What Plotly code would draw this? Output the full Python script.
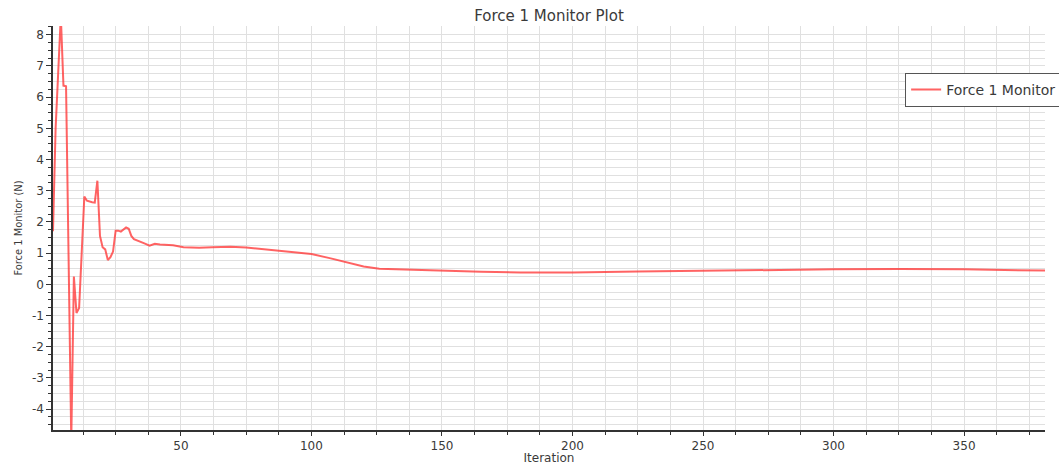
import plotly.graph_objects as go

# Force monitor history: iteration number and force value (N)
iterations = [1, 2, 3, 4, 5, 6, 7, 8, 9, 10, 11, 12, 13, 14, 15, 16, 17, 18, 19, 20,
              21, 22, 23, 24, 25, 26, 27, 28, 29, 30, 31, 32, 34, 36, 38, 40, 42, 47,
              51, 57, 62, 69, 75, 88, 100, 107, 114, 120, 126, 139, 152, 165, 180,
              200, 225, 250, 275, 300, 325, 350, 381]
force = [1.7, 5.0, 6.8, 8.6, 6.37, 6.35, 0.7, -5.0, 0.25, -0.92, -0.76, 1.0, 2.81, 2.68,
         2.65, 2.63, 2.62, 3.32, 1.55, 1.19, 1.12, 0.78, 0.87, 1.05, 1.72, 1.72, 1.69,
         1.76, 1.82, 1.78, 1.55, 1.45, 1.37, 1.31, 1.24, 1.30, 1.28, 1.25, 1.19, 1.17,
         1.19, 1.20, 1.18, 1.08, 0.97, 0.84, 0.69, 0.57, 0.50, 0.46, 0.43, 0.40, 0.38,
         0.38, 0.41, 0.44, 0.46, 0.48, 0.49, 0.48, 0.44]

x_ticks = [50, 100, 150, 200, 250, 300, 350]
x_tick_labels = ["50", "100", "150", "200", "250", "300", "350"]
y_ticks = [-4, -3, -2, -1, 0, 1, 2, 3, 4, 5, 6, 7, 8]
y_tick_labels = ["-4", "-3", "-2", "-1", "0", "1", "2", "3", "4", "5", "6", "7", "8"]

FONT = "DejaVu Sans"
TEXT = "#3a3a3a"
GRID = "#e0e0e0"

fig = go.Figure()
fig.add_trace(go.Scatter(
    x=iterations, y=force, mode="lines", name="Force 1 Monitor",
    line=dict(color="rgba(255,55,55,0.78)", width=2),
))

fig.update_layout(
    width=1059, height=465,
    margin=dict(l=53, r=14, t=26, b=35, autoexpand=False),
    paper_bgcolor="white", plot_bgcolor="white",
    font=dict(family=FONT, size=12, color=TEXT),
    title=dict(text="Force 1 Monitor Plot", x=0.5, xref="paper", xanchor="center",
               y=1 - 16 / 465, yref="container", yanchor="middle",
               font=dict(family=FONT, size=15, color=TEXT)),
    showlegend=True,
    legend=dict(x=0.859, y=0.884, xanchor="left", yanchor="top",
                bgcolor="white", bordercolor="#555555", borderwidth=1,
                font=dict(family=FONT, size=14, color=TEXT),
                itemwidth=30, tracegroupgap=0),
)

fig.update_xaxes(
    range=[1, 381], tickvals=x_ticks, ticktext=x_tick_labels,
    showline=True, linecolor="#333333", linewidth=1.5, mirror=False,
    ticks="outside", ticklen=4, tickcolor="#333333",
    showgrid=True, gridcolor=GRID, gridwidth=1, zeroline=False,
    minor=dict(dtick=12.5, tick0=0, showgrid=True, gridcolor=GRID, gridwidth=1,
               ticks="outside", ticklen=3, tickcolor="#333333"),
    title=dict(text="Iteration", standoff=2, font=dict(family=FONT, size=12, color=TEXT)),
    tickfont=dict(family=FONT, size=12, color=TEXT),
)

fig.update_yaxes(
    range=[-4.67, 8.28], tickvals=y_ticks, ticktext=y_tick_labels,
    showline=True, linecolor="#333333", linewidth=1.5, mirror=False,
    ticks="outside", ticklen=5, tickcolor="#333333",
    showgrid=True, gridcolor=GRID, gridwidth=1, zeroline=False,
    minor=dict(dtick=0.25, tick0=0, showgrid=True, gridcolor=GRID, gridwidth=1,
               ticks="outside", ticklen=3, tickcolor="#333333"),
    title=dict(text="Force 1 Monitor (N)", standoff=7,
               font=dict(family="DejaVu Sans Condensed, " + FONT, size=11, color=TEXT)),
    tickfont=dict(family=FONT, size=12, color=TEXT),
)

fig.write_html("out.html")
